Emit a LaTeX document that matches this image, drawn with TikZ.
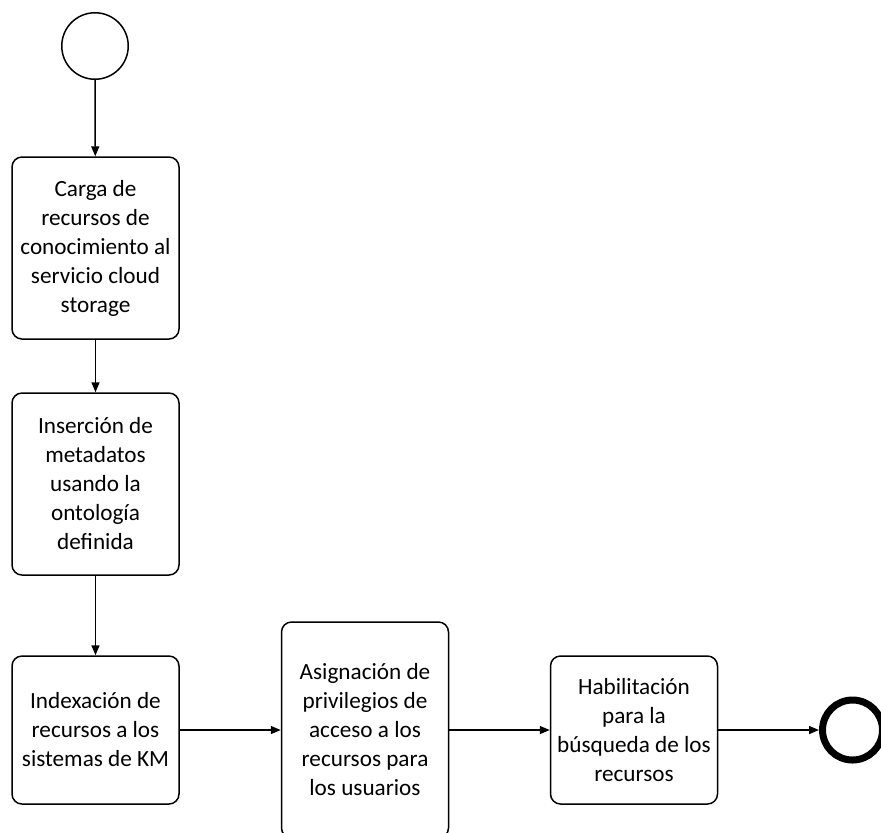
\documentclass[tikz,border=0pt]{standalone}
\usepackage{fontspec}
\setmainfont{Carlito}
\usetikzlibrary{arrows.meta}

\begin{document}
\begin{tikzpicture}[
x=0.5pt, y=-0.5pt,
act/.style={
  draw,
  rounded corners=5pt,
  line width=0.75pt,
  minimum width=83.5pt,
  inner sep=2pt,
  align=center,
  font=\fontsize{11.6}{14.5}\selectfont
  },
ini/.style={
  draw,
  circle,
  line width=0.75pt,
  minimum size=33.25pt,
  inner sep=0pt
  },
fin/.style={
  draw,
  circle,
  line width=3.5pt,
  minimum size=30pt,
  inner sep=0pt
  },
flow/.style={->, line width=0.75pt},
>={Triangle[length=5pt,width=4pt]}
]
\useasboundingbox (0,0) rectangle (881,832);

\node[ini] (inicio) at (95,46) {};
\node[act, minimum height=91pt] (carga) at (95.5,248)
  {Carga de\\recursos de\\conocimiento al\\servicio cloud\\storage};
\node[act, minimum height=91pt] (insercion) at (95.5,484)
  {Inserción de\\metadatos\\usando la\\ontología\\definida};
\node[act, minimum height=74pt] (indexacion) at (95.5,730)
  {Indexación de\\recursos a los\\sistemas de KM};
\node[act, minimum height=108pt] (asignacion) at (365,730)
  {Asignación de\\privilegios de\\acceso a los\\recursos para\\los usuarios};
\node[act, minimum height=74pt] (habilitacion) at (634,730)
  {Habilitación\\para la\\búsqueda de los\\recursos};
\node[fin] (fin) at (852.5,730) {};

\draw[flow] (inicio) -- (carga);
\draw[flow] (carga) -- (insercion);
\draw[flow] (insercion) -- (indexacion);
\draw[flow] (indexacion) -- (asignacion);
\draw[flow] (asignacion) -- (habilitacion);
\draw[flow] (habilitacion) -- (fin);
\end{tikzpicture}
\end{document}
